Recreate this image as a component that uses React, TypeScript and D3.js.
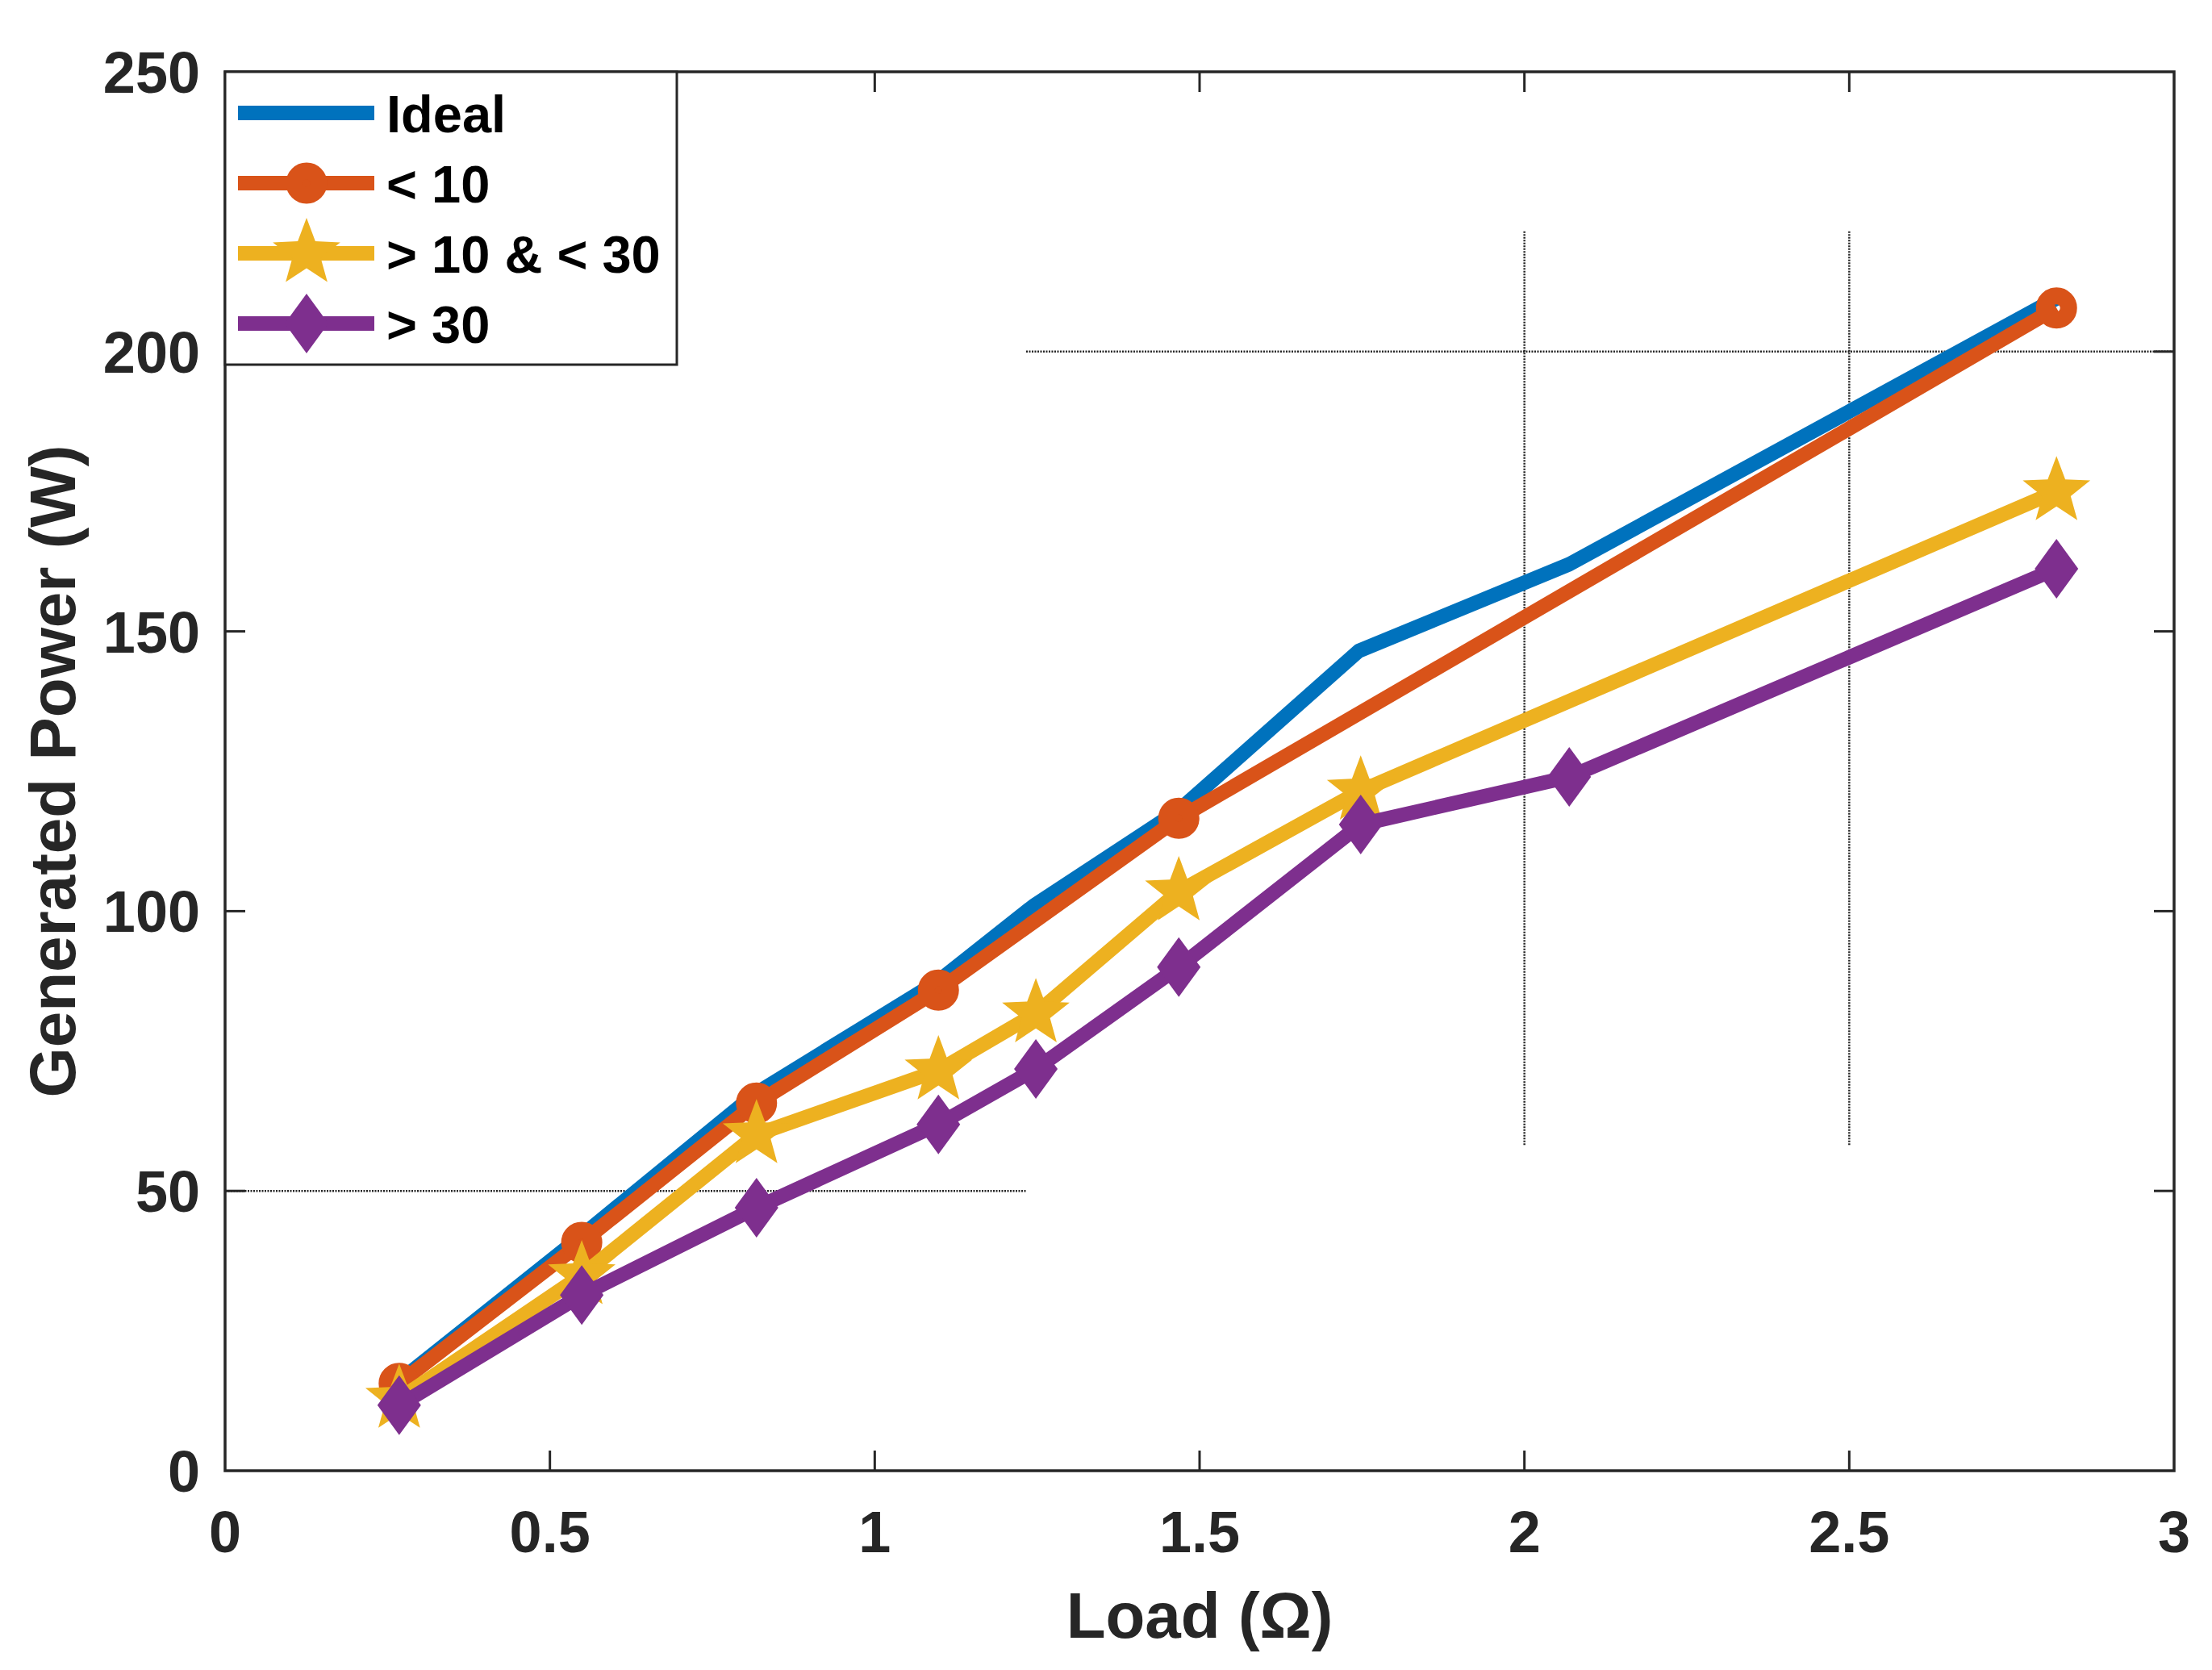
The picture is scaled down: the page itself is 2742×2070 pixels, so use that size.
import * as d3 from "d3";

// x values (Load, ohm) and y values (Generated Power, W) for each series
const idealLoad = [0.268, 0.549, 0.818, 1.098, 1.245, 1.468, 1.745, 2.069, 2.819];
const idealPower = [16, 42, 67.5, 87.5, 101, 118, 146.5, 162, 209.5];

const lt10Load = [0.268, 0.549, 0.818, 1.098, 1.468, 2.819];
const lt10Power = [15.6, 40.8, 65.7, 85.9, 116.6, 207.8];

const midLoad = [0.268, 0.549, 0.818, 1.098, 1.248, 1.468, 1.748, 2.819];
const midPower = [12.8, 34.9, 60.1, 71.5, 81.7, 103.5, 121.5, 175];

const gt30Load = [0.268, 0.549, 0.818, 1.098, 1.248, 1.468, 1.748, 2.069, 2.819];
const gt30Power = [11.7, 31.4, 47, 61.9, 71.8, 90, 115.5, 124, 161.2];

const seriesNames = ["Ideal", "< 10", "> 10 & < 30", "> 30"];
const seriesColors = ["#0072BD", "#D95319", "#EDB120", "#7E2F8E"];
const seriesMarkers = ["none", "circle", "star", "diamond"];

const xTicks = [0, 0.5, 1, 1.5, 2, 2.5, 3];
const yTicks = [0, 50, 100, 150, 200, 250];

// leftover grid segments in the figure: [x1, y1, x2, y2] in data units
const gridSegments = [
    [1.233, 200, 3, 200],
    [0, 50, 1.233, 50],
    [2, 58.2, 2, 221.7],
    [2.5, 58.2, 2.5, 221.7],
];

const W = 2742;
const H = 2070;
const margin = { left: 279, right: 47, top: 89, bottom: 247 };
const font = "'Liberation Sans', Arial, Helvetica, sans-serif";
const ink = "#262626";

const starPath = (R: number, ratio: number) => {
    const pts: string[] = [];
    for (let i = 0; i < 10; i++) {
        const rad = i % 2 === 0 ? R : R * ratio;
        const a = -Math.PI / 2 + (i * Math.PI) / 5;
        pts.push(`${(rad * Math.cos(a)).toFixed(2)},${(rad * Math.sin(a)).toFixed(2)}`);
    }
    return "M" + pts.join("L") + "Z";
};

const Marker = ({ kind, color }: { kind: string; color: string }) => {
    if (kind === "circle") {
        return <circle r={15} fill="none" stroke={color} strokeWidth={21} />;
    }
    if (kind === "star") {
        return <path d={starPath(44, 0.42)} fill={color} />;
    }
    if (kind === "diamond") {
        return <path d="M0,-37L27,0L0,37L-27,0Z" fill={color} />;
    }
    return null;
};

export default function App() {
    const xScale = d3.scaleLinear().domain([0, 3]).range([margin.left, W - margin.right]);
    const yScale = d3.scaleLinear().domain([0, 250]).range([H - margin.bottom, margin.top]);

    const x0 = xScale(0);
    const x1 = xScale(3);
    const y0 = yScale(0);
    const y1 = yScale(250);
    const tickLen = 25;

    const series = [
        { xs: idealLoad, ys: idealPower },
        { xs: lt10Load, ys: lt10Power },
        { xs: midLoad, ys: midPower },
        { xs: gt30Load, ys: gt30Power },
    ];

    const line = d3
        .line<[number, number]>()
        .x((d) => xScale(d[0]))
        .y((d) => yScale(d[1]));

    // legend layout
    const legX = x0;
    const legY = y1;
    const legW = 560;
    const legH = 363;
    const rowY = (i: number) => legY + 51 + i * 87;

    return (
        <div style={{ position: "absolute", left: 0, top: 0 }}>
            <svg width={W} height={H} style={{ display: "block", background: "#fff" }}>
                <rect x={0} y={0} width={W} height={H} fill="#fff" />

                {gridSegments.map((g, i) => (
                    <line
                        key={"g" + i}
                        x1={xScale(g[0])}
                        y1={yScale(g[1])}
                        x2={xScale(g[2])}
                        y2={yScale(g[3])}
                        stroke="#262626"
                        strokeWidth={2.5}
                        strokeDasharray="2 1.5"
                    />
                ))}

                {series.map((s, si) => {
                    const pts = s.xs.map((x, i) => [x, s.ys[i]] as [number, number]);
                    return (
                        <g key={"s" + si}>
                            <path
                                d={line(pts) || ""}
                                fill="none"
                                stroke={seriesColors[si]}
                                strokeWidth={18}
                                strokeLinejoin="round"
                            />
                            {pts.map((p, i) => (
                                <g key={i} transform={`translate(${xScale(p[0])},${yScale(p[1])})`}>
                                    <Marker kind={seriesMarkers[si]} color={seriesColors[si]} />
                                </g>
                            ))}
                        </g>
                    );
                })}

                {/* axes box */}
                <rect x={x0} y={y1} width={x1 - x0} height={y0 - y1} fill="none" stroke={ink} strokeWidth={3.5} />

                {xTicks.slice(1, -1).map((t) => (
                    <g key={"xt" + t}>
                        <line x1={xScale(t)} x2={xScale(t)} y1={y0} y2={y0 - tickLen} stroke={ink} strokeWidth={3} />
                        <line x1={xScale(t)} x2={xScale(t)} y1={y1} y2={y1 + tickLen} stroke={ink} strokeWidth={3} />
                    </g>
                ))}
                {yTicks.slice(1, -1).map((t) => (
                    <g key={"yt" + t}>
                        <line x1={x0} x2={x0 + tickLen} y1={yScale(t)} y2={yScale(t)} stroke={ink} strokeWidth={3} />
                        <line x1={x1} x2={x1 - tickLen} y1={yScale(t)} y2={yScale(t)} stroke={ink} strokeWidth={3} />
                    </g>
                ))}

                {xTicks.map((t) => (
                    <text
                        key={"xl" + t}
                        x={xScale(t)}
                        y={y0 + 101}
                        textAnchor="middle"
                        fontFamily={font}
                        fontWeight="bold"
                        fontSize={72}
                        fill={ink}
                    >
                        {t}
                    </text>
                ))}
                {yTicks.map((t) => (
                    <text
                        key={"yl" + t}
                        x={x0 - 31}
                        y={yScale(t) + 26}
                        textAnchor="end"
                        fontFamily={font}
                        fontWeight="bold"
                        fontSize={72}
                        fill={ink}
                    >
                        {t}
                    </text>
                ))}

                <text
                    x={(x0 + x1) / 2}
                    y={2030}
                    textAnchor="middle"
                    fontFamily={font}
                    fontWeight="bold"
                    fontSize={80}
                    fill={ink}
                >
                    Load (Ω)
                </text>
                <text
                    transform={`translate(93,${(y0 + y1) / 2}) rotate(-90)`}
                    textAnchor="middle"
                    fontFamily={font}
                    fontWeight="bold"
                    fontSize={80}
                    fill={ink}
                >
                    Generated Power (W)
                </text>

                {/* legend */}
                <rect x={legX} y={legY} width={legW} height={legH} fill="#fff" stroke={ink} strokeWidth={3} />
                {seriesNames.map((name, i) => (
                    <g key={"lg" + i}>
                        <line x1={295} x2={464} y1={rowY(i)} y2={rowY(i)} stroke={seriesColors[i]} strokeWidth={18} />
                        <g transform={`translate(380,${rowY(i)})`}>
                            <Marker kind={seriesMarkers[i]} color={seriesColors[i]} />
                        </g>
                        <text
                            x={479}
                            y={rowY(i) + 24}
                            fontFamily={font}
                            fontWeight="bold"
                            fontSize={65}
                            fill="#000"
                        >
                            {name}
                        </text>
                    </g>
                ))}
            </svg>
        </div>
    );
}
